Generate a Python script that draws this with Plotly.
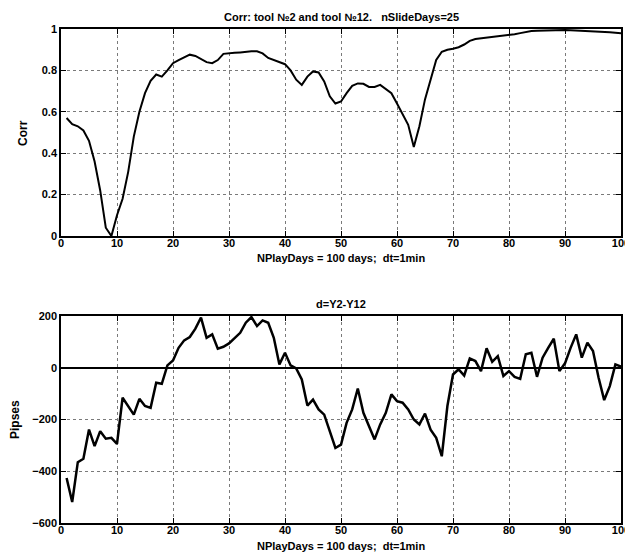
import plotly.graph_objects as go
from plotly.subplots import make_subplots

days = list(range(1, 101))

corr = [0.57, 0.54, 0.53, 0.51, 0.46, 0.36, 0.22, 0.04, 0.00, 0.10,
        0.18, 0.31, 0.48, 0.60, 0.69, 0.75, 0.78, 0.77, 0.80, 0.835,
        0.85, 0.865, 0.876, 0.87, 0.855, 0.84, 0.835, 0.85, 0.88, 0.884,
        0.885, 0.887, 0.89, 0.892, 0.892, 0.882, 0.86, 0.85, 0.84, 0.83,
        0.80, 0.755, 0.73, 0.77, 0.795, 0.79, 0.747, 0.675, 0.64, 0.65,
        0.69, 0.725, 0.737, 0.735, 0.72, 0.72, 0.73, 0.71, 0.69, 0.64,
        0.59, 0.537, 0.43, 0.53, 0.66, 0.76, 0.85, 0.89, 0.90, 0.905,
        0.912, 0.925, 0.943, 0.952, 0.955, 0.958, 0.962, 0.965, 0.968, 0.971,
        0.975, 0.98, 0.986, 0.99, 0.992, 0.993, 0.994, 0.995, 0.995, 0.995,
        0.994, 0.993, 0.992, 0.99, 0.988, 0.987, 0.986, 0.984, 0.982, 0.98]

diff = [-426, -519, -365, -352, -239, -303, -245, -274, -271, -294,
        -116, -148, -181, -120, -148, -155, -58, -62, 9, 28,
        77, 106, 119, 151, 194, 116, 129, 74, 81, 94,
        116, 135, 174, 196, 161, 183, 174, 116, 13, 58,
        9, -3, -45, -146, -123, -161, -181, -245, -310, -297,
        -213, -161, -80, -174, -228, -277, -219, -174, -103, -129,
        -135, -161, -200, -219, -177, -239, -271, -342, -148, -26,
        -6, -30, 36, 26, -13, 75, 23, 45, -32, -13,
        -35, -43, 52, 58, -35, 39, 77, 112, -13, 17,
        77, 129, 39, 97, 65, -39, -125, -71, 13, 4]

x_ticks = [0, 10, 20, 30, 40, 50, 60, 70, 80, 90, 100]
corr_ticks = [0, 0.2, 0.4, 0.6, 0.8, 1]
corr_tick_text = ["0", "0.2", "0.4", "0.6", "0.8", "1"]
diff_ticks = [-600, -400, -200, 0, 200]

# the page body has an 8px margin, so the figure starts at (8, 8)
OFF = 8
W, H = 633 - OFF, 555 - OFF
L, R, T, B = 61 - OFF, 12, 29 - OFF, 32
plot_h = H - T - B
plot_w = W - L - R

def fy(py):
    # page pixel y (from top) -> paper fraction
    return (H - B - (py - OFF)) / plot_h

def fx(px):
    return (px - OFF - L) / plot_w

fig = make_subplots(rows=2, cols=1)

fig.add_trace(go.Scatter(x=days, y=corr, mode="lines",
                         line=dict(color="black", width=2)), row=1, col=1)
fig.add_trace(go.Scatter(x=days, y=diff, mode="lines",
                         line=dict(color="black", width=2.5)), row=2, col=1)

font_b = dict(family="Liberation Sans, Arial, sans-serif", size=11,
              color="black", weight="bold")
font_lbl = dict(family="Liberation Sans, Arial, sans-serif", size=12,
                color="black", weight="bold")

axis_common = dict(showline=True, linecolor="black", linewidth=1.5, mirror="allticks",
                   ticks="inside", ticklen=5, tickcolor="black",
                   showgrid=True, gridcolor="#7a7a7a", griddash="dot", gridwidth=1,
                   tickfont=font_b, automargin=False)

fig.update_xaxes(range=[0, 100], tickvals=x_ticks, zeroline=False,
                 ticklabelstandoff=-4, ticklabeloverflow="allow", **axis_common)
fig.update_yaxes(range=[0, 1], tickvals=corr_ticks, ticktext=corr_tick_text,
                 zeroline=False, row=1, col=1, **axis_common)
fig.update_yaxes(range=[-600, 200], tickvals=diff_ticks, zeroline=True,
                 zerolinecolor="black", zerolinewidth=1.5, row=2, col=1, **axis_common)

fig.update_layout(
    xaxis=dict(domain=[0, 1]),
    xaxis2=dict(domain=[0, 1]),
    yaxis=dict(domain=[fy(236), 1]),
    yaxis2=dict(domain=[0, fy(316)]),
)

annots = [
    ("Corr: tool №2 and tool №12.   nSlideDays=25", fy(17)),
    ("NPlayDays = 100 days;  dt=1min", fy(258)),
    ("d=Y2-Y12", fy(304)),
    ("NPlayDays = 100 days;  dt=1min", fy(546)),
]
for txt, yy in annots:
    fig.add_annotation(text=txt, x=fx(341), y=yy, xref="paper", yref="paper",
                       showarrow=False, font=font_b, xanchor="center", yanchor="middle")

for txt, px, py in [("Corr", 23, 133), ("Pipses", 15, 420)]:
    fig.add_annotation(text=txt, x=fx(px), y=fy(py), xref="paper",
                       yref="paper", showarrow=False, font=font_lbl, textangle=-90,
                       xanchor="center", yanchor="middle")

fig.update_layout(width=W, height=H, margin=dict(l=L, r=R, t=T, b=B),
                  paper_bgcolor="white", plot_bgcolor="white", showlegend=False,
                  font=font_b)

fig.write_html("out.html")
